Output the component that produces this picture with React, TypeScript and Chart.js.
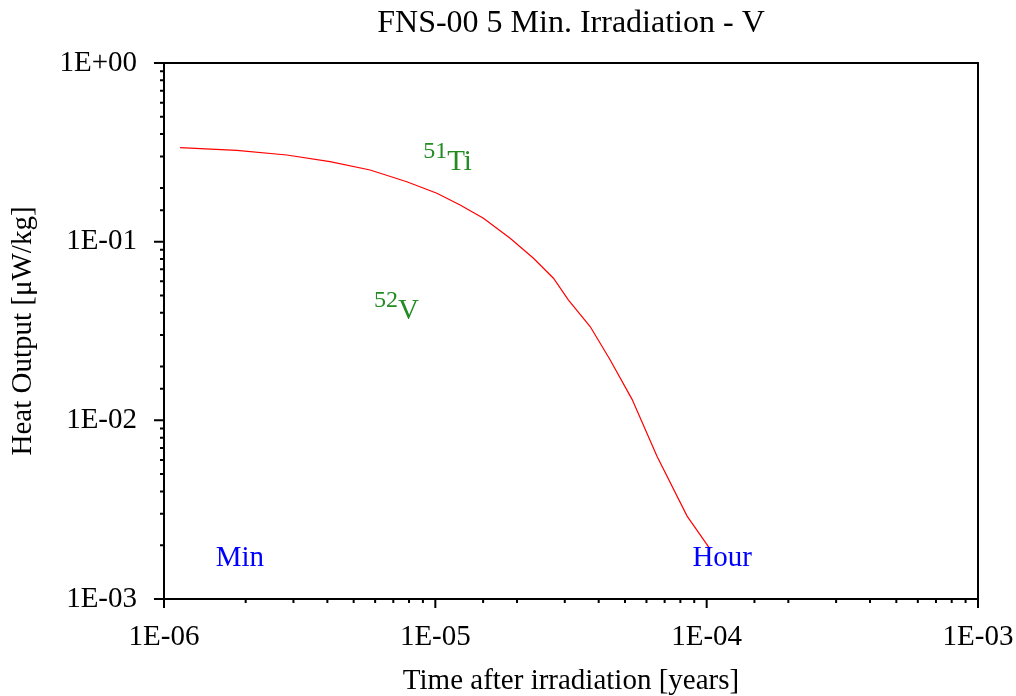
import React, { useEffect, useRef } from "react";
import { Chart, registerables } from "chart.js";

Chart.register(...registerables);

// Time after irradiation [years]
const times: number[] = [
  1.146e-6, 1.854e-6, 2.834e-6, 4.09e-6, 5.75e-6, 7.85e-6, 1.013e-5, 1.234e-5,
  1.504e-5, 1.887e-5, 2.3e-5, 2.725e-5, 3.096e-5, 3.72e-5, 4.4e-5, 5.31e-5,
  6.56e-5, 8.47e-5, 1.03e-4,
];
// Heat output [µW/kg]
const heat: number[] = [
  0.3357, 0.3246, 0.3055, 0.2803, 0.2518, 0.2166, 0.1865, 0.1604,
  0.1351, 0.1044, 0.0807, 0.0624, 0.0471, 0.0335, 0.0219, 0.0131,
  0.00629, 0.00291, 0.0019,
];

const titleText = "FNS-00 5 Min. Irradiation - V";
const xTitle = "Time after irradiation [years]";
const yTitle = "Heat Output [\u03bcW/kg]";

// Nuclide labels (superscript mass number + symbol), anchored in data units
const nuclideMass: string[] = ["51", "52"];
const nuclideSymbol: string[] = ["Ti", "V"];
const nuclideX: number[] = [9.02e-6, 5.94e-6];
const nuclideY: number[] = [0.252, 0.0369];

// Time markers (1 minute, 1 hour in years)
const markerText: string[] = ["Min", "Hour"];
const markerX: number[] = [1.903e-6, 1.141e-4];
const markerY: number[] = [0.00153, 0.00153];

const FONT = "'Liberation Serif', 'Times New Roman', serif";

const isDecade = (v: number) => {
  const l = Math.log10(v);
  return Math.abs(l - Math.round(l)) < 1e-6;
};
const fmtDecade = (v: number) => {
  const e = Math.round(Math.log10(v));
  const s = e < 0 ? "-" : "+";
  const a = Math.abs(e);
  return "1E" + s + (a < 10 ? "0" + a : String(a));
};

const framePlugin = {
  id: "frameTicks",
  afterDraw(chart: any) {
    const { ctx, chartArea } = chart;
    const xs = chart.scales.x;
    const ys = chart.scales.y;
    ctx.save();
    // title centred over the plot area
    ctx.fillStyle = "#000";
    ctx.textAlign = "center";
    ctx.textBaseline = "alphabetic";
    ctx.font = "32px " + FONT;
    ctx.fillText(titleText, (chartArea.left + chartArea.right) / 2, 32);

    ctx.strokeStyle = "#000";
    ctx.lineWidth = 2;
    ctx.strokeRect(
      chartArea.left,
      chartArea.top,
      chartArea.right - chartArea.left,
      chartArea.bottom - chartArea.top
    );
    ctx.beginPath();
    for (const t of xs.ticks) {
      const px = xs.getPixelForValue(t.value);
      const len = isDecade(t.value) ? 9 : 4;
      ctx.moveTo(px, chartArea.bottom);
      ctx.lineTo(px, chartArea.bottom + len);
    }
    for (const t of ys.ticks) {
      const py = ys.getPixelForValue(t.value);
      const len = isDecade(t.value) ? 10 : 4;
      ctx.moveTo(chartArea.left, py);
      ctx.lineTo(chartArea.left - len, py);
    }
    ctx.stroke();

    // nuclide labels
    ctx.fillStyle = "#228B22";
    ctx.textAlign = "left";
    for (let i = 0; i < nuclideMass.length; i++) {
      const px = xs.getPixelForValue(nuclideX[i]);
      const py = ys.getPixelForValue(nuclideY[i]);
      ctx.font = "24px " + FONT;
      ctx.fillText(nuclideMass[i], px, py - 12);
      const w = ctx.measureText(nuclideMass[i]).width;
      ctx.font = "29px " + FONT;
      ctx.fillText(nuclideSymbol[i], px + w, py);
    }
    // time markers
    ctx.fillStyle = "#0000FF";
    ctx.textAlign = "center";
    ctx.font = "29px " + FONT;
    for (let i = 0; i < markerText.length; i++) {
      const px = xs.getPixelForValue(markerX[i]);
      const py = ys.getPixelForValue(markerY[i]);
      ctx.fillText(markerText[i], px, py);
    }
    ctx.restore();
  },
};

export default function App() {
  const ref = useRef<HTMLCanvasElement>(null);
  useEffect(() => {
    if (!ref.current) return;
    const chart = new Chart(ref.current, {
      type: "line",
      data: {
        datasets: [
          {
            data: times.map((t, i) => ({ x: t, y: heat[i] })),
            borderColor: "#ff0000",
            borderWidth: 1.2,
            pointRadius: 0,
            tension: 0,
            fill: false,
          },
        ],
      },
      options: {
        responsive: false,
        animation: false,
        layout: { padding: { top: 63, left: 0, right: 38, bottom: 0 } },
        plugins: {
          legend: { display: false },
          tooltip: { enabled: false },
          title: { display: false },
        },
        scales: {
          x: {
            type: "logarithmic",
            position: "bottom",
            min: 1e-6,
            max: 1e-3,
            grid: { display: false, drawTicks: true, tickLength: 10 },
            border: { display: false },
            ticks: {
              color: "#000",
              font: { family: FONT, size: 29 },
              padding: 11,
              maxRotation: 0,
              autoSkip: false,
              callback: (v: any) => (isDecade(Number(v)) ? fmtDecade(Number(v)) : ""),
            },
            title: {
              display: true,
              text: xTitle,
              color: "#000",
              font: { family: FONT, size: 29 },
              padding: { top: 0, bottom: -3 },
            },
            afterFit: (s: any) => {
              s.height = 97;
              s.paddingLeft = 0;
              s.paddingRight = 0;
            },
          },
          y: {
            type: "logarithmic",
            position: "left",
            min: 1e-3,
            max: 1,
            grid: { display: false, drawTicks: true, tickLength: 10 },
            border: { display: false },
            ticks: {
              color: "#000",
              font: { family: FONT, size: 29 },
              padding: 17,
              autoSkip: false,
              callback: (v: any) => (isDecade(Number(v)) ? fmtDecade(Number(v)) : ""),
            },
            title: {
              display: true,
              text: yTitle,
              color: "#000",
              font: { family: FONT, size: 29 },
              padding: { top: 6, bottom: 0 },
            },
            afterFit: (s: any) => {
              s.width = 164;
              s.paddingTop = 0;
              s.paddingBottom = 0;
            },
          },
        },
      },
      plugins: [framePlugin],
    } as any);
    return () => chart.destroy();
  }, []);
  return (
    <div style={{ position: "fixed", left: 0, top: 0, width: 1016, height: 696, background: "#fff" }}>
      <canvas ref={ref} width={1016} height={696} style={{ display: "block" }} />
    </div>
  );
}
